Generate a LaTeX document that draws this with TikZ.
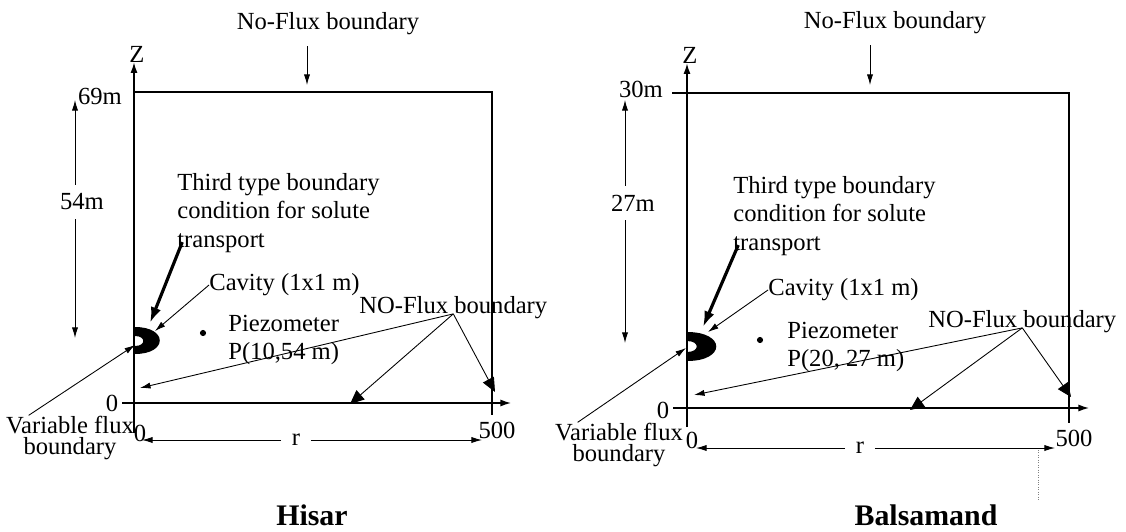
\documentclass[tikz,border=0pt]{standalone}
\usepackage{fontspec}
\setmainfont{Liberation Serif}
\usetikzlibrary{arrows.meta,positioning}

\begin{document}
\begin{tikzpicture}[x=0.02cm,y=-0.02cm]
    \tikzset{
      txt/.style={inner sep=0pt,font=\fontsize{14}{16}\selectfont},
      note/.style={txt,align=left,anchor=west},
      tight/.style={inner sep=0pt,align=center,font=\fontsize{14}{12.5}\selectfont},
      caption/.style={inner sep=0pt,font=\fontsize{17}{20}\selectfont\bfseries},
      wall/.style={draw=black,line width=0.8pt},
      axis/.style={draw=black,line width=0.8pt,-{Latex[length=6pt,width=4pt]}},
      pointer/.style={draw=black,line width=0.5pt,-{Latex[length=6pt,width=3.5pt]}},
      heavy/.style={draw=black,line width=1.8pt,-{Latex[length=9pt,width=6pt]}},
      bigtip/.style={draw=black,line width=0.5pt,-{Triangle[length=8pt,width=7pt]}},
      well/.style={circle,fill=black,inner sep=0pt,minimum size=3.5pt}
    }
    \useasboundingbox (0,0) rectangle (1126,531);

    % Hisar
    \node[txt] (hTopNF) at (328,24) {No-Flux boundary};
    \coordinate (hTopIn) at (307,85);
    \draw[pointer,shorten <=6pt] (hTopNF.south -| hTopIn) -- (hTopIn);
    \node[txt] (hZ) at (137,54) {Z};
    \coordinate (hZfoot) at (134,433);
    \draw[axis] (hZfoot) -- (hZ.south -| hZfoot);
    \draw[wall] (134,92) -- (492,92) -- (492,415);
    \node[txt] (h69) at (100,96) {69m};
    \coordinate (hDimTop) at (75,100);
    \coordinate (hDimBot) at (75,338);
    \node[txt] (h54) at (82,202) {54m};
    \draw[pointer,shorten <=5pt] (h54.north -| hDimTop) -- (hDimTop);
    \draw[pointer,shorten <=5pt] (h54.south -| hDimTop) -- (hDimBot);
    \node[note] (hThird) at (177,213) {Third type boundary\\condition for solute\\transport};
    \coordinate (hCavIn) at (150,323);
    \draw[heavy] ([xshift=3pt,yshift=6pt]hThird.south west) -- (hCavIn);
    \fill (135,327) .. controls (168,327) and (168,354) .. (135,354) -- (135,346)
      .. controls (146,346) and (146,336) .. (135,336) -- cycle;
    \node[txt,anchor=west] (hCav) at (209,285) {Cavity (1x1 m)};
    \coordinate (hCavTip) at (155,331);
    \draw[pointer] (hCav.west) -- (hCavTip);
    \node[well] (hWell) at (203,333) {};
    \node[note] (hPz) at (228,340) {Piezometer\\P(10,54 m)};
    \node[note] (hSideNF) at (359,308) {NO-Flux boundary};
    \coordinate (hLeftWall) at (140,388);
    \coordinate (hFloor) at (350,404);
    \coordinate (hRightWall) at (495,392);
    \draw[pointer] (hSideNF.base) -- (hLeftWall);
    \draw[bigtip] (hSideNF.base) -- (hFloor);
    \draw[bigtip] (hSideNF.base) -- (hRightWall);
    \node[txt] (hZero) at (112,403) {0};
    \coordinate (hRend) at (511,403);
    \draw[axis,shorten <=2pt] (hZero.east) -- (hRend);
    \node[txt] (hOrig) at (140,433) {0};
    \node[txt] (h500) at (497,430) {500};
    \node[txt] (hR) at (296,440) {r};
    \coordinate (hRleft) at (142,440);
    \coordinate (hRright) at (482,440);
    \draw[pointer,shorten <=6pt] (hR.west) -- (hRleft);
    \draw[pointer,shorten <=6pt] (hR.east) -- (hRright);
    \node[tight] (hVar) at (70,438) {Variable flux\\boundary};
    \coordinate (hVarIn) at (135,345);
    \draw[pointer] ([xshift=13pt]hVar.north west) -- (hVarIn);
    \node[caption] (hName) at (312,515) {Hisar};

    % Balsamand
    \node[txt] (bTopNF) at (895,23) {No-Flux boundary};
    \coordinate (bTopIn) at (870,85);
    \draw[pointer,shorten <=6pt] (bTopNF.south -| bTopIn) -- (bTopIn);
    \node[txt] (bZ) at (690,55) {Z};
    \coordinate (bZfoot) at (687,427);
    \draw[axis] (bZfoot) -- (bZ.south -| bZfoot);
    \draw[wall] (672,93) -- (1069,93) -- (1069,423);
    \node[txt] (b30) at (641,89) {30m};
    \coordinate (bDimTop) at (625,100);
    \coordinate (bDimBot) at (625,343);
    \node[txt] (b27) at (633,203) {27m};
    \draw[pointer,shorten <=5pt] (b27.north -| bDimTop) -- (bDimTop);
    \draw[pointer,shorten <=5pt] (b27.south -| bDimTop) -- (bDimBot);
    \node[note] (bThird) at (733,216) {Third type boundary\\condition for solute\\transport};
    \coordinate (bCavIn) at (703,327);
    \draw[heavy] ([xshift=3pt,yshift=6pt]bThird.south west) -- (bCavIn);
    \fill (687,332) .. controls (726,332) and (726,361) .. (687,361) -- (687,352)
      .. controls (700,352) and (700,341) .. (687,341) -- cycle;
    \node[txt,anchor=west] (bCav) at (768,290) {Cavity (1x1 m)};
    \coordinate (bCavTip) at (708,332);
    \draw[pointer] (bCav.west) -- (bCavTip);
    \node[well] (bWell) at (760,340) {};
    \node[note] (bPz) at (787,347) {Piezometer\\P(20, 27 m)};
    \node[note] (bSideNF) at (928,322) {NO-Flux boundary};
    \coordinate (bLeftWall) at (694,395);
    \coordinate (bFloor) at (910,410);
    \coordinate (bRightWall) at (1071,397);
    \draw[pointer] (bSideNF.base) -- (bLeftWall);
    \draw[bigtip] (bSideNF.base) -- (bFloor);
    \draw[bigtip] (bSideNF.base) -- (bRightWall);
    \node[txt] (bZero) at (663,410) {0};
    \coordinate (bRend) at (1089,408);
    \draw[axis,shorten <=2pt] (bZero.east |- bRend) -- (bRend);
    \node[txt] (bOrig) at (692,440) {0};
    \node[txt] (b500) at (1074,438) {500};
    \node[txt] (bR) at (860,448) {r};
    \coordinate (bRleft) at (696,448);
    \coordinate (bRright) at (1055,448);
    \draw[pointer,shorten <=6pt] (bR.west) -- (bRleft);
    \draw[pointer,shorten <=6pt] (bR.east) -- (bRright);
    \draw[gray,densely dotted,line width=0.4pt] (1038,450) -- (1038,500);
    \node[tight] (bVar) at (619,445) {Variable flux\\boundary};
    \coordinate (bVarIn) at (686,348);
    \draw[pointer] ([xshift=13pt]bVar.north west) -- (bVarIn);
    \node[caption] (bName) at (926,515) {Balsamand};
\end{tikzpicture}
\end{document}
